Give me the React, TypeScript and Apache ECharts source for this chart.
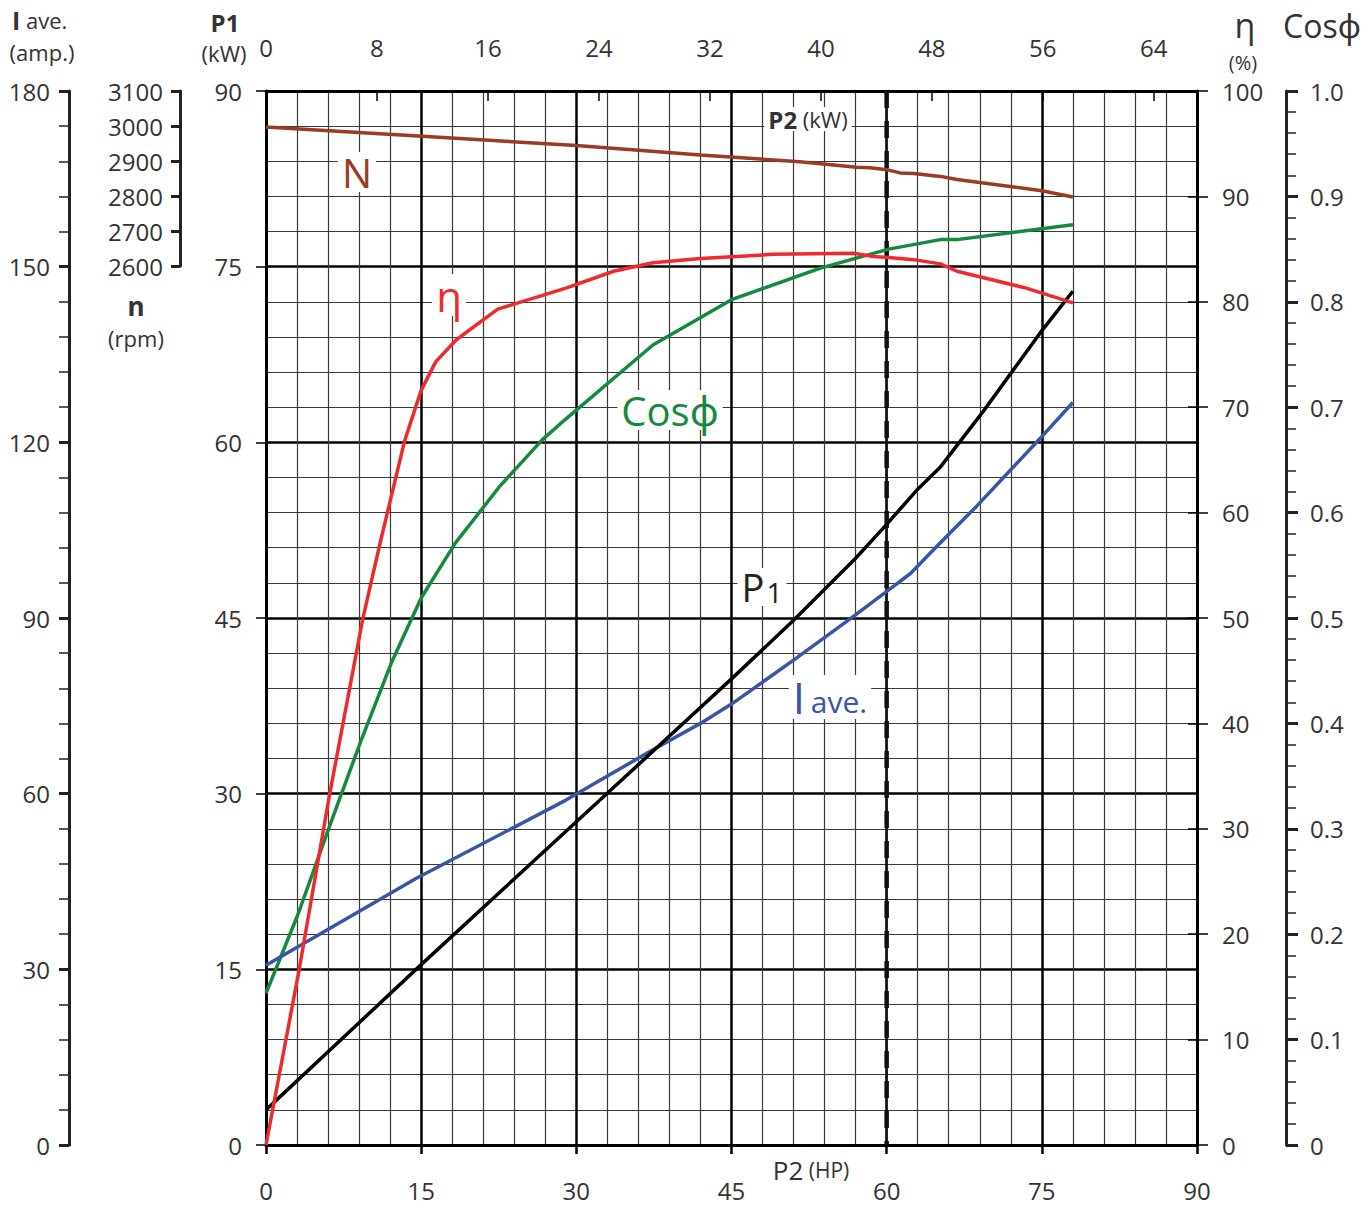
import React, { useEffect, useRef } from 'react';
import * as echarts from 'echarts';

const FONT = '"Open Sans", "Noto Sans", sans-serif';

// P2 (HP) on x; each series as [HP, value]
const nData = [[0, 2997], [15.1, 2971], [30, 2944], [42, 2917], [51.6, 2898], [57.1, 2882], [58.4, 2881], [60.2, 2874], [61.3, 2866], [62.6, 2864], [65.2, 2856], [66.8, 2847], [71, 2831], [75, 2815], [78, 2797]];
const etaData = [[0, 0], [3.2, 16.6], [6.1, 33.0], [9.35, 49.9], [11.1, 57.4], [13.4, 66.8], [15.0, 71.6], [16.4, 74.3], [18.4, 76.4], [22.4, 79.3], [29.0, 81.3], [33.6, 82.9], [37.4, 83.7], [42.0, 84.1], [49.0, 84.5], [56.8, 84.6], [58.7, 84.3], [60.2, 84.2], [62.6, 84.0], [65.2, 83.6], [66.8, 82.9], [73.5, 81.3], [78.0, 79.9]];
const cosData = [[0, 0.144], [3.06, 0.218], [6.2, 0.304], [9.2, 0.384], [12.1, 0.457], [15.0, 0.519], [18.3, 0.571], [22.6, 0.625], [26.7, 0.669], [29.0, 0.689], [37.4, 0.759], [45.0, 0.802], [53.6, 0.832], [60.2, 0.850], [65.2, 0.859], [66.8, 0.859], [78.0, 0.873]];
const p1Data = [[0, 3.0], [15, 15.4], [30, 27.6], [45, 39.8], [51, 44.8], [57, 50.1], [60, 53.0], [63, 56.0], [65.2, 57.9], [69.3, 62.6], [74.8, 69.3], [78, 72.9]];
const iData = [[0, 30.7], [14.5, 45.5], [29.0, 58.9], [37.1, 67.2], [42.0, 72.0], [45.0, 75.3], [51.0, 82.8], [56.5, 89.9], [60.2, 94.8], [62.3, 97.6], [65.0, 102.5], [68.7, 109.1], [71.3, 114.0], [74.8, 120.6], [78.0, 126.8]];
const ratedHP = [60];

const hpRange = [0, 90];
const kwPerHp = 0.7457;
const p1Range = [0, 90];
const iRange = [0, 180];
const etaRange = [0, 100];
const cosRange = [0, 1];
const nRange = [2600, 3100];

const C_N = '#9c3a22';
const C_ETA = '#ee2a2e';
const C_COS = '#158a3e';
const C_P1 = '#000000';
const C_I = '#3b55a5';
const TXT = '#333333';

export default function App() {
  const ref = useRef<HTMLDivElement>(null);
  useEffect(() => {
    if (!ref.current) return;
    const chart = echarts.init(ref.current, null, { renderer: 'svg' });
    const lbl = { fontSize: 24, lineHeight: 24, color: TXT, fontFamily: FONT, formatter: (v: number) => String(v) };
    const text = (x: number, y: number, t: string, extra: any = {}) => ({
      type: 'text', x, y, z: 100,
      style: { text: t, fontFamily: FONT, fontSize: 22, fill: TXT, align: 'center', verticalAlign: 'middle', ...extra },
    });
    const boxed = (x: number, y: number, t: string, fill: string, extra: any = {}) =>
      text(x, y, t, { fill, backgroundColor: '#fff', padding: [0, 4], ...extra });

    const option: any = {
      animation: false,
      backgroundColor: '#fff',
      textStyle: { fontFamily: FONT },
      grid: [
        { left: 266, top: 91, width: 931, height: 1054 },
        { left: 266, top: 91, width: 931, height: 175 },
      ],
      xAxis: [
        {
          type: 'value', gridIndex: 0, min: hpRange[0], max: hpRange[1], interval: 15, position: 'bottom',
          axisLine: { show: true, onZero: false, lineStyle: { color: '#000', width: 3 } },
          axisTick: { show: true, length: 9, lineStyle: { color: '#000', width: 2.5 } },
          axisLabel: { ...lbl, lineHeight: 22, margin: 34 },
          splitLine: { show: true, lineStyle: { color: '#000', width: 2.5 } },
          minorTick: { show: false, splitNumber: 5 },
          minorSplitLine: { show: true, lineStyle: { color: '#3a3a3a', width: 1.2 } },
        },
        {
          type: 'value', gridIndex: 0, min: hpRange[0] * kwPerHp, max: hpRange[1] * kwPerHp, interval: 8, position: 'top',
          axisLine: { show: true, onZero: false, lineStyle: { color: '#000', width: 3 } },
          axisTick: { show: true, inside: true, length: 10, lineStyle: { color: '#000', width: 1.5 } },
          axisLabel: { ...lbl, margin: 32, formatter: (v: number) => (Math.abs(v % 8) < 1e-6 ? String(v) : '') },
          splitLine: { show: false },
        },
        { type: 'value', gridIndex: 1, min: hpRange[0], max: hpRange[1], show: false },
      ],
      yAxis: [
        {
          type: 'value', gridIndex: 0, min: p1Range[0], max: p1Range[1], interval: 15, position: 'left',
          axisLine: { show: true, onZero: false, lineStyle: { color: '#000', width: 3 } },
          axisTick: { show: true, length: 10, lineStyle: { color: '#000', width: 1.5 } },
          axisLabel: { ...lbl, margin: 24 },
          splitLine: { show: true, lineStyle: { color: '#000', width: 2.5 } },
          minorTick: { show: false, splitNumber: 5 },
          minorSplitLine: { show: true, lineStyle: { color: '#3a3a3a', width: 1.2 } },
        },
        {
          type: 'value', gridIndex: 0, min: iRange[0], max: iRange[1], interval: 30, position: 'left', offset: 197,
          axisLine: { show: true, onZero: false, lineStyle: { color: '#222', width: 3 } },
          axisTick: { show: true, length: 10, lineStyle: { color: '#222', width: 3 } },
          minorTick: { show: true, splitNumber: 5, length: 10, lineStyle: { color: '#222', width: 1.5 } },
          axisLabel: { ...lbl, margin: 19 },
          splitLine: { show: false },
        },
        {
          type: 'value', gridIndex: 0, min: etaRange[0], max: etaRange[1], interval: 10, position: 'right',
          axisLine: { show: true, onZero: false, lineStyle: { color: '#000', width: 3 } },
          axisTick: { show: true, length: 11, lineStyle: { color: '#000', width: 1.5 } },
          axisLabel: { ...lbl, margin: 25 },
          splitLine: { show: false },
        },
        {
          type: 'value', gridIndex: 0, min: etaRange[0], max: etaRange[1], interval: 10, position: 'right',
          axisLine: { show: false, onZero: false },
          axisTick: { show: true, inside: true, length: 9, lineStyle: { color: '#000', width: 1.5 } },
          axisLabel: { show: false },
          splitLine: { show: false },
        },
        {
          type: 'value', gridIndex: 0, min: cosRange[0], max: cosRange[1], interval: 0.1, position: 'right', offset: 89,
          axisLine: { show: true, onZero: false, lineStyle: { color: '#222', width: 3 } },
          axisTick: { show: true, length: 12, lineStyle: { color: '#222', width: 3 } },
          minorTick: { show: true, splitNumber: 5, length: 10, lineStyle: { color: '#222', width: 1.5 } },
          axisLabel: { ...lbl, margin: 24, formatter: (v: number) => (v === 0 ? '0' : v.toFixed(1)) },
          splitLine: { show: false },
        },
        {
          type: 'value', gridIndex: 1, min: nRange[0], max: nRange[1], interval: 100, position: 'left', offset: 86,
          axisLine: { show: true, onZero: false, lineStyle: { color: '#222', width: 3 } },
          axisTick: { show: true, length: 9, lineStyle: { color: '#222', width: 3 } },
          axisLabel: { ...lbl, margin: 17 },
          splitLine: { show: false },
        },
      ],
      series: [
        {
          type: 'line', xAxisIndex: 0, yAxisIndex: 0, data: [[ratedHP[0], p1Range[0]], [ratedHP[0], p1Range[1]]],
          showSymbol: false, silent: true, lineStyle: { color: '#111', width: 1.8 }, z: 3,
        },
        {
          type: 'line', xAxisIndex: 0, yAxisIndex: 0, data: [[ratedHP[0], p1Range[1]], [ratedHP[0], p1Range[0]]],
          showSymbol: false, silent: true, lineStyle: { color: '#111', width: 4.5, type: [17, 13] }, z: 3,
        },
        { name: 'N', type: 'line', xAxisIndex: 2, yAxisIndex: 5, data: nData, showSymbol: false, lineStyle: { color: C_N, width: 3.5 }, z: 4 },
        { name: 'Cosφ', type: 'line', xAxisIndex: 0, yAxisIndex: 4, data: cosData, showSymbol: false, lineStyle: { color: C_COS, width: 3.5 }, z: 4 },
        { name: 'η', type: 'line', xAxisIndex: 0, yAxisIndex: 2, data: etaData, showSymbol: false, lineStyle: { color: C_ETA, width: 3.5 }, z: 5 },
        { name: 'I ave.', type: 'line', xAxisIndex: 0, yAxisIndex: 1, data: iData, showSymbol: false, lineStyle: { color: C_I, width: 3.5 }, z: 4 },
        { name: 'P1', type: 'line', xAxisIndex: 0, yAxisIndex: 0, data: p1Data, showSymbol: false, lineStyle: { color: C_P1, width: 3.5 }, z: 4 },
      ],
      graphic: [
        text(12, 20, '{b|I} ave.', { align: 'left', fontSize: 22, rich: { b: { fontWeight: 'bold', fontSize: 25, fontFamily: FONT, fill: TXT } } }),
        text(42, 52, '(amp.)', { fontSize: 22 }),
        text(225, 22, 'P1', { fontSize: 24, fontWeight: 'bold' }),
        text(224, 53, '(kW)', { fontSize: 22 }),
        text(136, 306, 'n', { fontSize: 26, fontWeight: 'bold' }),
        text(136, 338, '(rpm)', { fontSize: 22 }),
        text(1245, 25, 'η', { fontSize: 34 }),
        text(1243, 62, '(%)', { fontSize: 20 }),
        text(1283, 25, 'Cosϕ', { fontSize: 32, align: 'left' }),
        boxed(808, 119, '{b|P2} (kW)', TXT, { fontSize: 22, rich: { b: { fontWeight: 'bold', fontSize: 24, fontFamily: FONT, fill: TXT } } }),
        text(811, 1170, '{a|P2} (HP)', { fontSize: 21, rich: { a: { fontSize: 26, fontFamily: FONT, fill: TXT } } }),
        boxed(357, 172, 'N', C_N, { fontSize: 40 }),
        boxed(449, 295, 'η', C_ETA, { fontSize: 42 }),
        boxed(670, 410, 'Cosϕ', C_COS, { fontSize: 40 }),
        boxed(762, 587, '{a|P}{b|1}', C_P1, { rich: { a: { fontSize: 38, fontFamily: FONT, fill: '#222' }, b: { fontSize: 28, fontFamily: FONT, fill: '#222', padding: [10, 0, 0, 2] } } }),
        boxed(830, 697, '{a|I} {b|ave.}', C_I, { rich: { a: { fontSize: 44, fontFamily: FONT, fill: C_I }, b: { fontSize: 30, fontFamily: FONT, fill: C_I, padding: [8, 0, 0, 0] } } }),
      ],
    };
    chart.setOption(option);
    return () => chart.dispose();
  }, []);
  return <div ref={ref} style={{ position: 'absolute', left: 0, top: 0, width: 1371, height: 1206 }} />;
}
